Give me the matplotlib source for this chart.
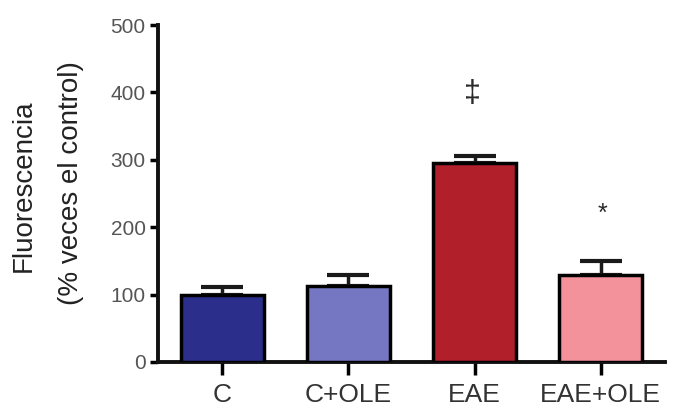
import numpy as np
import matplotlib
matplotlib.use('Agg')
import matplotlib.pyplot as plt

plt.rcParams['font.family'] = ['Liberation Sans', 'DejaVu Sans']

groups = ['C', 'C+OLE', 'EAE', 'EAE+OLE']
means = [100, 113, 295, 129]
errs = [11, 16, 11, 21]
colors = ['#2c2e8c', '#7577c2', '#b01f2a', '#f4929b']
marks = ['', '', '‡', '*']
mark_y = [0, 0, 397, 220]

fig = plt.figure(figsize=(6.77, 4.18), dpi=100)
ax = fig.add_axes([0.2334, 0.134, 0.749, 0.806])

x = np.arange(len(groups))
ax.bar(x, means, width=0.66, color=colors, edgecolor='black', linewidth=2.5, zorder=3)
ax.errorbar(x, means, yerr=[np.zeros(len(errs)), errs], fmt='none', ecolor='#1a1a1a',
            elinewidth=2.5, capsize=15, capthick=3, zorder=2)

for xi, m, my in zip(x, marks, mark_y):
    if m == '‡':
        ax.text(xi - 0.02, my, m, ha='center', va='center', fontsize=22, color='#2a2a2a')
    elif m:
        ax.text(xi + 0.01, my, m, ha='center', va='center', fontsize=18, color='#2a2a2a')

ax.set_xlim(-0.51, 3.51)
ax.set_ylim(0, 500)
ax.set_yticks([0, 100, 200, 300, 400, 500])
ax.set_xticks(x)
ax.set_xticklabels(groups)

for s in ['top', 'right']:
    ax.spines[s].set_visible(False)
for s in ['left', 'bottom']:
    ax.spines[s].set_linewidth(2.8)
    ax.spines[s].set_color('#111111')

ax.tick_params(axis='y', direction='out', length=6, width=2.5, labelsize=15, labelcolor='#555555', pad=3)
ax.tick_params(axis='x', direction='out', length=9, width=2.5, labelsize=19, labelcolor='#333333', pad=6)

# y label, two lines
fig.text(24 / 677, 1 - 186 / 418, 'Fluorescencia', rotation=90, ha='center', va='center',
         fontsize=20, color='#222222')
fig.text(71 / 677, 1 - 183 / 418, '(% veces el control)', rotation=90, ha='center', va='center',
         fontsize=20, color='#222222')

fig.savefig('out.png', dpi=100)
